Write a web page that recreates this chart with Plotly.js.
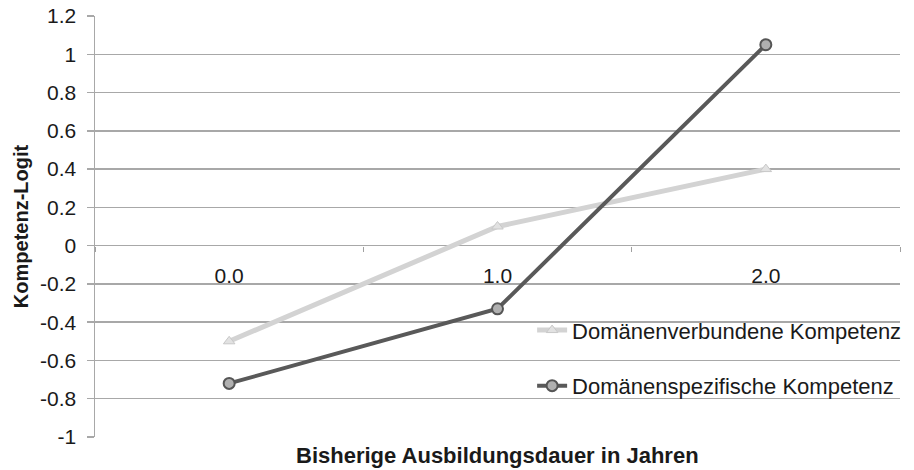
<!DOCTYPE html>
<html>
<head>
<meta charset="utf-8">
<script src="https://cdn.plot.ly/plotly-3.0.1.min.js"></script>
<style>html,body{margin:0;padding:0;background:#fff;}#chart{width:914px;height:470px;}</style>
</head>
<body>
<div id="chart"></div>
<script>
const categories = ["0.0", "1.0", "2.0"];
const seriesNames = ["Domänenverbundene Kompetenz", "Domänenspezifische Kompetenz"];
const verbundeneValues = [-0.50, 0.10, 0.40];
const spezifischeValues = [-0.72, -0.33, 1.05];
const yTickValues = [-1, -0.8, -0.6, -0.4, -0.2, 0, 0.2, 0.4, 0.6, 0.8, 1, 1.2];
const yTickLabels = ["-1", "-0.8", "-0.6", "-0.4", "-0.2", "0", "0.2", "0.4", "0.6", "0.8", "1", "1.2"];
const xTitle = "Bisherige Ausbildungsdauer in Jahren";
const yTitle = "Kompetenz-Logit";

const FONT = "Liberation Sans, Arial, sans-serif";

const traces = [
  {
    x: categories, y: verbundeneValues, name: seriesNames[0],
    type: "scatter", mode: "lines+markers",
    line: {color: "#d3d3d3", width: 5},
    marker: {symbol: "triangle-up", size: 10, color: "#e2e2e2", line: {color: "#c8c8c8", width: 1}},
    legendgroup: "a", cliponaxis: false
  },
  {
    x: categories, y: spezifischeValues, name: seriesNames[1],
    type: "scatter", mode: "lines+markers",
    line: {color: "#595959", width: 4},
    marker: {symbol: "circle", size: 11, color: "#b0b0b0", line: {color: "#555555", width: 2}},
    legendgroup: "b", cliponaxis: false
  }
];

const layout = {
  width: 914, height: 470,
  margin: {l: 95, r: 7, t: 16, b: 33},
  paper_bgcolor: "#ffffff", plot_bgcolor: "#ffffff",
  font: {family: FONT, size: 21, color: "#1a1a1a"},
  showlegend: true,
  legend: {
    x: 0.543, y: 0.187, xanchor: "left", yanchor: "middle",
    bgcolor: "rgba(0,0,0,0)", borderwidth: 0,
    font: {family: FONT, size: 22, color: "#1a1a1a"},
    traceorder: "grouped", tracegroupgap: 24
  },
  xaxis: {
    type: "category",
    range: [-0.5, 2.5],
    anchor: "free", position: 1.0 / 2.2,
    tickson: "boundaries",
    ticks: "outside", ticklen: 5, tickwidth: 1, tickcolor: "#a0a0a0",
    ticklabelstandoff: 15,
    showline: false, showgrid: false, zeroline: false,
    tickfont: {family: FONT, size: 21, color: "#1a1a1a"},
    fixedrange: true
  },
  yaxis: {
    range: [-1, 1.2],
    tickvals: yTickValues, ticktext: yTickLabels,
    ticks: "outside", ticklen: 7, tickwidth: 1.5, tickcolor: "#a8a8a8",
    showline: true, linecolor: "#a8a8a8", linewidth: 1.5,
    showgrid: true, gridcolor: "#a8a8a8", gridwidth: 1.5,
    zeroline: false,
    ticklabelstandoff: 6,
    tickfont: {family: FONT, size: 21, color: "#1a1a1a"},
    title: {text: "<b>" + yTitle + "</b>", font: {family: FONT, size: 20, color: "#1a1a1a"}, standoff: 6},
    fixedrange: true
  },
  annotations: [
    {
      text: "<b>" + xTitle + "</b>", xref: "paper", yref: "paper",
      x: 0.5, y: 0, yshift: -18, xanchor: "center", yanchor: "middle",
      showarrow: false, font: {family: FONT, size: 22, color: "#1a1a1a"}
    }
  ]
};

Plotly.newPlot("chart", traces, layout, {displayModeBar: false, staticPlot: true});
</script>
</body>
</html>
